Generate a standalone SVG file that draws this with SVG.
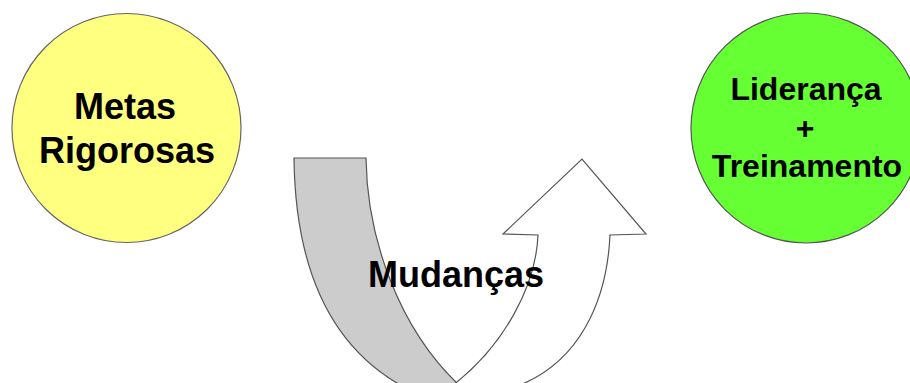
<svg xmlns="http://www.w3.org/2000/svg" width="910" height="383" viewBox="0 0 910 383">
<style>
.t{font-family:"Liberation Sans",Arial,sans-serif;font-weight:bold;fill:#000;text-anchor:middle}
.edge{stroke:#555;stroke-width:1.2;stroke-linejoin:miter}
</style>
<rect width="910" height="383" fill="#fff"/>
<g id="metas">
<circle cx="126.5" cy="128" r="114.5" fill="#ffff80" stroke="#666" stroke-width="1.2"/>
<text class="t" x="125" y="119" font-size="36">Metas</text>
<text class="t" x="127" y="163" font-size="36">Rigorosas</text>
</g>
<g id="lideranca">
<circle cx="806" cy="128" r="115" fill="#66ff33" stroke="#555" stroke-width="1.2"/>
<text class="t" x="806" y="100" font-size="32">Liderança</text>
<text class="t" x="805" y="138.5" font-size="32">+</text>
<text class="t" x="807" y="177" font-size="32">Treinamento</text>
</g>
<g id="connectors">
<path class="edge" d="M294,158 L366,158 C367,240 400,330 460,386 L402,386 C320,340 295,250 294,158 Z" fill="#cccccc"/>
<path class="edge" d="M452,386 C505,345 536,285 538,235 L503,234 L582,159 L646,234 L610,235 C607,300 580,365 512,388 L512,395 L452,395 Z" fill="#fff"/>
</g>
<g id="mudancas">
<text class="t" x="456" y="287" font-size="36">Mudanças</text>
</g>
</svg>
